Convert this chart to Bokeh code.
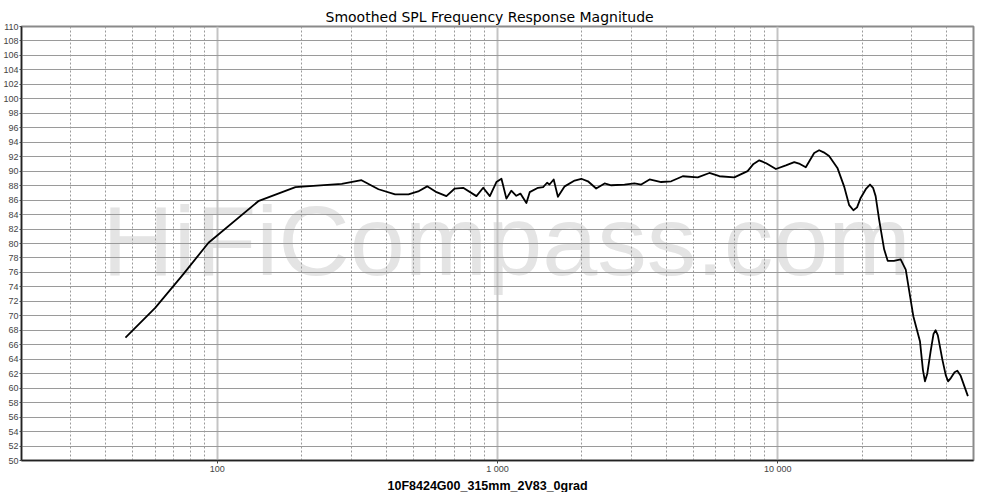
from bokeh.plotting import figure
from bokeh.models import FixedTicker, CustomJSTickFormatter, Label, Range1d, Title
from bokeh.embed import file_html
from bokeh.resources import INLINE

# ---- data ----
freq_hz = [47, 60, 75, 93, 140, 190, 278, 327, 376, 431, 481, 521, 561, 606, 657,
           704, 754, 841, 889, 939, 991, 1033, 1076, 1120, 1167, 1207, 1268, 1303,
           1395, 1455, 1503, 1533, 1587, 1643, 1737, 1885, 1991, 2103, 2250, 2411,
           2547, 2840, 3083, 3258, 3490, 3838, 4168, 4584, 5184, 5705, 6193, 7002,
           7811, 8200, 8598, 9100, 9856, 10700, 11460, 12000, 12600, 13500, 14060,
           14600, 15260, 16340, 17260, 18000, 18630, 19200, 19780, 20700, 21360,
           21900, 22370, 23020, 23990, 24700, 26000, 27480, 28650, 30490, 32200,
           33000, 33560, 34200, 35150, 36000, 36630, 37300, 38710, 39800, 40560,
           41500, 42800, 43780, 45000, 47750]
spl_db = [67.0, 71.1, 75.6, 80.1, 85.85, 87.8, 88.25, 88.75, 87.5, 86.8, 86.8, 87.2,
          87.9, 87.1, 86.55, 87.6, 87.7, 86.55, 87.7, 86.55, 88.5, 88.95, 86.2, 87.3,
          86.6, 86.9, 85.6, 87.1, 87.7, 87.8, 88.4, 88.15, 88.85, 86.45, 87.9, 88.7,
          88.95, 88.6, 87.6, 88.3, 88.05, 88.15, 88.3, 88.15, 88.85, 88.5, 88.6, 89.3,
          89.15, 89.75, 89.3, 89.15, 90.0, 91.0, 91.5, 91.1, 90.3, 90.8, 91.25, 91.0,
          90.55, 92.5, 92.9, 92.6, 92.1, 90.45, 87.9, 85.3, 84.6, 85.0, 86.3, 87.6,
          88.15, 87.7, 86.55, 83.3, 79.2, 77.6, 77.6, 77.8, 76.4, 69.95, 66.5, 62.5,
          60.95, 62.0, 65.1, 67.5, 68.0, 67.3, 63.95, 61.8, 60.95, 61.4, 62.2, 62.4,
          61.7, 58.9]

x_major_ticks = [100, 1000, 10000]
x_minor_ticks = [30, 40, 50, 60, 70, 80, 90,
                 200, 300, 400, 500, 600, 700, 800, 900,
                 2000, 3000, 4000, 5000, 6000, 7000, 8000, 9000,
                 20000, 30000, 40000]
y_ticks = list(range(50, 111, 2))

title_text = "Smoothed SPL Frequency Response Magnitude"
x_label = "10F8424G00_315mm_2V83_0grad"
watermark = "HiFiCompass.com"

p = figure(frame_width=952, frame_height=434, x_axis_type="log",
           x_range=Range1d(20, 50000), y_range=Range1d(50, 110),
           output_backend="svg", toolbar_location=None,
           min_border_left=0, min_border_right=8,
           min_border_top=26, min_border_bottom=0)

p.background_fill_color = "white"
p.border_fill_color = "white"
p.outline_line_color = "#8a8a8a"
p.outline_line_width = 2

tt = Title(text=title_text, align="left", offset=304, text_font="DejaVu Sans",
           text_font_size="14px", text_font_style="normal", text_color="#000000",
           standoff=4)
p.add_layout(tt, "above")

# watermark under the grid
wm = Label(x=485, y=220, x_units="screen", y_units="screen", text=watermark,
           text_font="Liberation Sans", text_font_size="99px", text_color="#e4e4e4",
           text_align="center", text_baseline="middle", level="image")
p.add_layout(wm)

# x axis
p.xaxis.ticker = FixedTicker(ticks=x_major_ticks, minor_ticks=x_minor_ticks)
p.xaxis.formatter = CustomJSTickFormatter(code="""
    return String(Math.round(tick)).replace(/\\B(?=(\\d{3})+(?!\\d))/g, ' ');
""")
p.xaxis.major_label_text_font = "Liberation Sans"
p.xaxis.major_label_text_font_size = "9px"
p.xaxis.major_label_standoff = 0
p.xaxis.major_tick_out = 3
p.xaxis.major_tick_in = 0
p.xaxis.minor_tick_out = 0
p.xaxis.minor_tick_in = 0
p.xaxis.axis_line_color = "#222222"
p.xaxis.axis_line_width = 1.5
p.xaxis.major_tick_line_color = "#444444"

# x label as a title below the axis
xl = Title(text=x_label, align="left", offset=366, text_font="Liberation Sans",
           text_font_size="12.5px", text_font_style="bold", text_color="#000000",
           standoff=0)
p.add_layout(xl, "below")

# y axis
p.yaxis.ticker = FixedTicker(ticks=y_ticks)
p.yaxis.major_label_text_font = "Liberation Sans"
p.yaxis.major_label_text_font_size = "9px"
p.yaxis.major_label_standoff = 1
p.yaxis.major_tick_out = 2
p.yaxis.major_tick_in = 0
p.yaxis.minor_tick_out = 0
p.yaxis.minor_tick_in = 0
p.yaxis.axis_line_color = "#222222"
p.yaxis.axis_line_width = 1.5
p.yaxis.major_tick_line_color = "#444444"

# grids
p.xgrid.grid_line_color = "#c4c4c4"
p.xgrid.grid_line_width = 2
p.xgrid.minor_grid_line_color = "#9a9a9a"
p.xgrid.minor_grid_line_dash = "2 2"
p.xgrid.minor_grid_line_width = 1
p.ygrid.grid_line_color = "#9a9a9a"
p.ygrid.grid_line_width = 1

p.line(freq_hz, spl_db, line_color="black", line_width=1.8, line_join="round")

open("out.html", "w").write(file_html(p, INLINE))
